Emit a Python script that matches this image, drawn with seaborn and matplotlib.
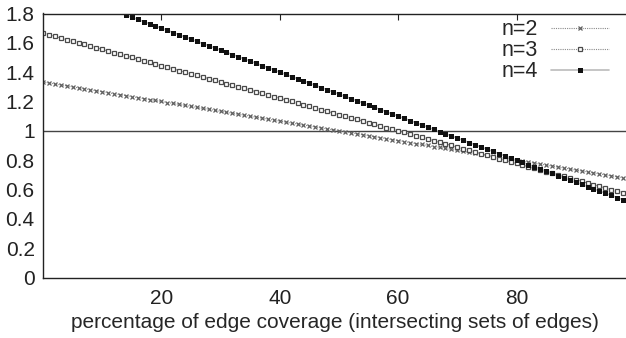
import matplotlib
matplotlib.use("Agg")
import matplotlib.pyplot as plt
import seaborn as sns
import pandas as pd
import numpy as np

# percentage of edge coverage (one point per integer percent)
coverage = list(range(0, 99))

ratio_n2 = [
    1.333, 1.327, 1.320, 1.313, 1.307, 1.300, 1.293, 1.287, 1.280,
    1.273, 1.267, 1.260, 1.253, 1.247, 1.240, 1.233, 1.227, 1.220,
    1.213, 1.207, 1.200, 1.193, 1.187, 1.180, 1.173, 1.167, 1.160,
    1.153, 1.147, 1.140, 1.133, 1.127, 1.120, 1.113, 1.107, 1.100,
    1.093, 1.087, 1.080, 1.073, 1.067, 1.060, 1.053, 1.047, 1.040,
    1.033, 1.027, 1.020, 1.013, 1.007, 1.000, 0.993, 0.987, 0.980,
    0.973, 0.967, 0.960, 0.953, 0.947, 0.940, 0.933, 0.927, 0.920,
    0.913, 0.907, 0.900, 0.893, 0.887, 0.880, 0.873, 0.867, 0.860,
    0.853, 0.847, 0.840, 0.833, 0.827, 0.820, 0.813, 0.807, 0.800,
    0.793, 0.787, 0.780, 0.773, 0.767, 0.760, 0.753, 0.747, 0.740,
    0.733, 0.727, 0.720, 0.713, 0.707, 0.700, 0.693, 0.687, 0.680,
]

ratio_n3 = [
    1.667, 1.656, 1.644, 1.633, 1.622, 1.611, 1.600, 1.589, 1.578,
    1.567, 1.556, 1.544, 1.533, 1.522, 1.511, 1.500, 1.489, 1.478,
    1.467, 1.456, 1.444, 1.433, 1.422, 1.411, 1.400, 1.389, 1.378,
    1.367, 1.356, 1.344, 1.333, 1.322, 1.311, 1.300, 1.289, 1.278,
    1.267, 1.256, 1.244, 1.233, 1.222, 1.211, 1.200, 1.189, 1.178,
    1.167, 1.156, 1.144, 1.133, 1.122, 1.111, 1.100, 1.089, 1.078,
    1.067, 1.056, 1.044, 1.033, 1.022, 1.011, 1.000, 0.989, 0.978,
    0.967, 0.956, 0.944, 0.933, 0.922, 0.911, 0.900, 0.889, 0.878,
    0.867, 0.856, 0.844, 0.833, 0.822, 0.811, 0.800, 0.789, 0.778,
    0.767, 0.756, 0.744, 0.733, 0.722, 0.711, 0.700, 0.689, 0.678,
    0.667, 0.656, 0.644, 0.633, 0.622, 0.611, 0.600, 0.589, 0.578,
]

ratio_n4 = [
    2.000, 1.985, 1.970, 1.955, 1.940, 1.925, 1.910, 1.895, 1.880,
    1.865, 1.850, 1.835, 1.820, 1.805, 1.790, 1.775, 1.760, 1.745,
    1.730, 1.715, 1.700, 1.685, 1.670, 1.655, 1.640, 1.625, 1.610,
    1.595, 1.580, 1.565, 1.550, 1.535, 1.520, 1.505, 1.490, 1.475,
    1.460, 1.445, 1.430, 1.415, 1.400, 1.385, 1.370, 1.355, 1.340,
    1.325, 1.310, 1.295, 1.280, 1.265, 1.250, 1.235, 1.220, 1.205,
    1.190, 1.175, 1.160, 1.145, 1.130, 1.115, 1.100, 1.085, 1.070,
    1.055, 1.040, 1.025, 1.010, 0.995, 0.980, 0.965, 0.950, 0.935,
    0.920, 0.905, 0.890, 0.875, 0.860, 0.845, 0.830, 0.815, 0.800,
    0.785, 0.770, 0.755, 0.740, 0.725, 0.710, 0.695, 0.680, 0.665,
    0.650, 0.635, 0.620, 0.605, 0.590, 0.575, 0.560, 0.545, 0.530,
]

series_labels = ["n=2", "n=3", "n=4"]
x_ticks = [20, 40, 60, 80]
y_ticks = [0, 0.2, 0.4, 0.6, 0.8, 1, 1.2, 1.4, 1.6, 1.8]
y_tick_labels = ["0", "0.2", "0.4", "0.6", "0.8", "1", "1.2", "1.4", "1.6", "1.8"]
x_label = "percentage of edge coverage (intersecting sets of edges)"
reference_level = 1.0

sns.set_style("white")
plt.rcParams["font.family"] = ["Liberation Sans", "DejaVu Sans"]

fig = plt.figure(figsize=(6.26, 3.38), dpi=100)
ax = fig.add_axes([43 / 626, (338 - 277.5) / 338, 1 - 43 / 626, (277.5 - 13.5) / 338])

YMAX = 1.8
frames = []
for lab, vals in zip(series_labels, [ratio_n2, ratio_n3, ratio_n4]):
    frames.append(pd.DataFrame({"x": coverage, "y": vals, "series": lab}))
df = pd.concat(frames, ignore_index=True)
df = df[df["y"] <= YMAX + 1e-9]

styles = {
    "n=2": dict(color="#8a8a8a", linestyle=(0, (1, 1)), linewidth=0.8,
                marker="x", markersize=3.4, markeredgewidth=0.9,
                markeredgecolor="#606060"),
    "n=3": dict(color="#8a8a8a", linestyle=(0, (1, 1)), linewidth=0.8,
                marker="s", markersize=3.3, markeredgewidth=0.9,
                markerfacecolor="white", markeredgecolor="#4a4a4a"),
    "n=4": dict(color="#bbbbbb", linestyle="-", linewidth=1.2,
                marker="s", markersize=3.6, markeredgewidth=0.0,
                markerfacecolor="#111111", markeredgecolor="#111111"),
}

ax.axhline(reference_level, color="#444444", linewidth=1.0, zorder=1)

for lab in series_labels:
    sub = df[df["series"] == lab]
    sns.lineplot(data=sub, x="x", y="y", ax=ax, label=lab, estimator=None,
                 sort=False, **styles[lab])

ax.set_xlim(0, 98.5)
ax.set_ylim(0, YMAX)
ax.set_xticks(x_ticks)
ax.set_yticks(y_ticks)
ax.set_yticklabels(y_tick_labels)
ax.set_xlabel(x_label, fontsize=15, labelpad=4)
ax.set_ylabel("")

for s in ["left", "bottom", "top"]:
    ax.spines[s].set_color("#222222")
    ax.spines[s].set_linewidth(1.0)
ax.spines["right"].set_visible(False)
ax.tick_params(axis="both", direction="in", length=4, width=0.8,
               labelsize=15, colors="#222222", pad=6, top=True, right=False)
ax.tick_params(axis="x", pad=8)

leg = ax.legend(loc="upper right", frameon=False, markerfirst=False,
                fontsize=15.5, handlelength=2.7, handletextpad=0.6,
                labelspacing=0.0, borderaxespad=0.0, bbox_to_anchor=(0.985, 1.01))
for t in leg.get_texts():
    t.set_ha("right")

fig.savefig("out.png", dpi=100)
